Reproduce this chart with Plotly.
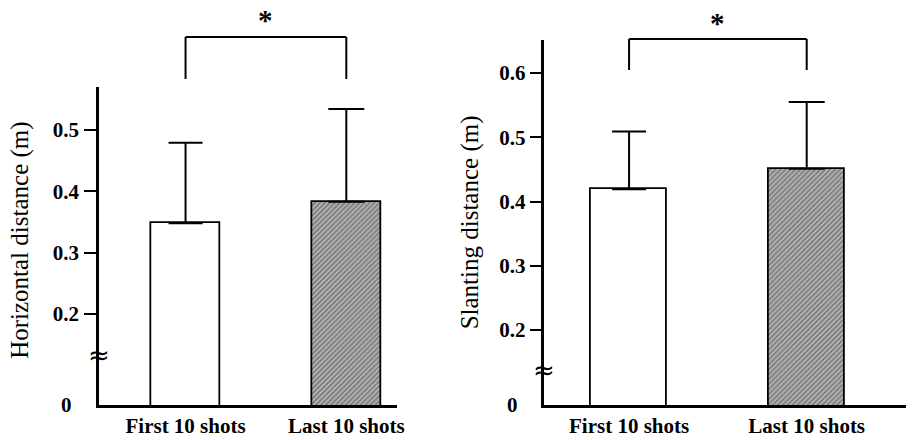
import plotly.graph_objects as go

# ---- data ----
categories = ["First 10 shots", "Last 10 shots"]
horiz_mean = [0.348, 0.383]
horiz_sd = [0.131, 0.151]
slant_mean = [0.419, 0.451]
slant_sd = [0.090, 0.104]
horiz_ticks = [0.2, 0.3, 0.4, 0.5]
slant_ticks = [0.2, 0.3, 0.4, 0.5, 0.6]
tick_text_h = ["0.2", "0.3", "0.4", "0.5"]
tick_text_s = ["0.2", "0.3", "0.4", "0.5", "0.6"]
zero_label = "0"
sig_label = "*"
title_h = "Horizontal distance (m)"
title_s = "Slanting distance (m)"

W, H = 913, 440
FONT = "Liberation Serif"

def px(x):
    return x / W

def py(y):
    return 1 - y / H

xpos = [0, 1]

fig = go.Figure()

def add_bars(xa, ya, means, sds):
    fig.add_trace(go.Bar(
        x=[xpos[0]], y=[means[0]], xaxis=xa, yaxis=ya, width=0.43,
        marker=dict(color="white", line=dict(color="black", width=1.8)),
        error_y=dict(type="data", symmetric=False, array=[sds[0]], arrayminus=[0],
                     color="black", thickness=2, width=17),
        showlegend=False, hoverinfo="skip"))
    fig.add_trace(go.Bar(
        x=[xpos[1]], y=[means[1]], xaxis=xa, yaxis=ya, width=0.43,
        marker=dict(color="#8a8a8a", line=dict(color="black", width=1.8),
                    pattern=dict(shape="/", fgcolor="#2a2a2a", bgcolor="#b4b4b4",
                                 size=3.5, solidity=0.4)),
        error_y=dict(type="data", symmetric=False, array=[sds[1]], arrayminus=[0],
                     color="black", thickness=2, width=18),
        showlegend=False, hoverinfo="skip"))

add_bars("x", "y", horiz_mean, horiz_sd)
add_bars("x2", "y2", slant_mean, slant_sd)

axis_common = dict(showline=True, linecolor="black", linewidth=3, showgrid=False,
                   zeroline=False)

TICKF = dict(size=21, family=FONT, weight="bold")

fig.update_layout(
    width=W, height=H, margin=dict(l=0, r=0, t=0, b=0),
    paper_bgcolor="white", plot_bgcolor="white",
    font=dict(family=FONT, color="black"),
    bargap=0,
    xaxis=dict(domain=[px(100), px(400)], range=[-0.537, 1.315], tickvals=xpos,
               ticktext=categories, ticks="", tickfont=TICKF,
               anchor="y", **axis_common),
    yaxis=dict(domain=[py(405), py(87)], range=[0.0516, 0.570], tickvals=horiz_ticks,
               ticktext=tick_text_h, ticks="outside", ticklen=12, tickwidth=2,
               tickcolor="black", ticklabelstandoff=1, tickfont=TICKF,
               anchor="x", **axis_common),
    xaxis2=dict(domain=[px(548), 1.0], range=[-0.480, 1.559], tickvals=xpos,
                ticktext=categories, ticks="", tickfont=TICKF,
                anchor="y2", **axis_common),
    yaxis2=dict(domain=[py(405), py(40)], range=[0.0833, 0.6514], tickvals=slant_ticks,
                ticktext=tick_text_s, ticks="outside", ticklen=11, tickwidth=2,
                tickcolor="black", ticklabelstandoff=0, tickfont=TICKF,
                anchor="x2", **axis_common),
)

# axis titles
for txt, xc, yc in [(title_h, 20, 240), (title_s, 474, 222)]:
    fig.add_annotation(xref="paper", yref="paper", x=px(xc), y=py(yc), text=txt,
                       textangle=-90, showarrow=False, xanchor="center", yanchor="middle",
                       font=dict(size=25, family=FONT))

# significance brackets
def bracket(xref, y_low, y_high, star_y):
    for xv in xpos:
        fig.add_shape(type="line", xref=xref, yref="paper", x0=xv, x1=xv,
                      y0=py(y_low), y1=py(y_high), line=dict(color="black", width=2))
    fig.add_shape(type="line", xref=xref, yref="paper", x0=xpos[0], x1=xpos[1],
                  y0=py(y_high), y1=py(y_high), line=dict(color="black", width=2))
    fig.add_annotation(xref=xref, yref="paper", x=(xpos[0] + xpos[1]) / 2, y=py(star_y),
                       text=sig_label, showarrow=False, xanchor="center", yanchor="middle",
                       font=dict(size=29, family=FONT, weight="bold"))

bracket("x", 79, 37, 20)
bracket("x2", 70, 39, 23)

# zero labels and axis break marks
for xa, sh in [(100, -25), (548, -24)]:
    fig.add_annotation(xref="paper", yref="paper", x=px(xa), y=py(405), text=zero_label,
                       showarrow=False, xanchor="right", yanchor="middle", xshift=sh,
                       font=TICKF)
for xa, yb in [(100, 355), (548, 370)]:
    fig.add_annotation(xref="paper", yref="paper", x=px(xa), y=py(yb), text="≈",
                       showarrow=False, xanchor="center", yanchor="middle",
                       font=dict(size=26, family="DejaVu Sans"))

fig.write_html("out.html",
               config={"displayModeBar": False},
               post_script="document.body.style.margin='0';"
                           "document.body.style.overflow='hidden';")
